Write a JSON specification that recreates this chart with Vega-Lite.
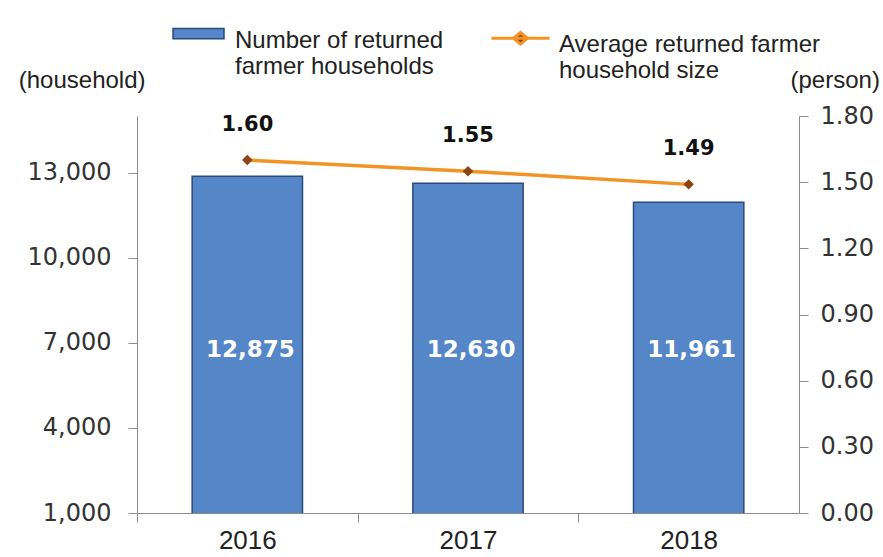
{
  "$schema": "https://vega.github.io/schema/vega-lite/v6.json",
  "width": 662,
  "height": 397,
  "autosize": {"type": "none"},
  "padding": {"left": 137, "top": 116, "right": 84, "bottom": 44},
  "background": "white",
  "config": {
    "view": {"stroke": null},
    "axis": {"grid": false, "domainColor": "#8c8c8c", "tickColor": "#8c8c8c", "labelColor": "#333333", "labelFont": "DejaVu Sans", "labelFontSize": 24, "titleFont": "Liberation Sans", "titleFontSize": 24, "titleFontWeight": "normal", "titleColor": "#222222"},
    "legend": {"labelFont": "Liberation Sans", "labelFontSize": 24, "labelColor": "#222222", "labelLimit": 400, "padding": 0}
  },
  "data": {
    "values": [
      {"year": "2016", "households": 12875, "size": 1.60},
      {"year": "2017", "households": 12630, "size": 1.55},
      {"year": "2018", "households": 11961, "size": 1.49}
    ]
  },
  "encoding": {
    "x": {
      "field": "year", "type": "ordinal",
      "scale": {"paddingInner": 0.5, "paddingOuter": 0.25},
      "axis": {"title": null, "labelAngle": 0, "ticks": true, "tickOffset": -110.33, "labelOffset": 110.33, "tickSize": 9, "labelPadding": 5, "labelFontSize": 26, "labelFont": "Liberation Sans", "labelColor": "#222222"}
    }
  },
  "layer": [
    {
      "layer": [
        {
          "mark": {"type": "bar", "stroke": "#2a4a78", "strokeWidth": 1.5, "clip": true},
          "encoding": {
            "y": {
              "field": "households", "type": "quantitative",
              "scale": {"domain": [1000, 15000], "zero": false, "nice": false},
              "axis": {"values": [1000, 4000, 7000, 10000, 13000], "format": ",d", "tickSize": 9, "labelPadding": 17, "title": "(household)", "titleAngle": 0, "titleAlign": "right", "titleBaseline": "middle", "titleX": 8, "titleY": -36}
            },
            "fill": {
              "datum": "Number of returned farmer households",
              "scale": {"range": ["#5586c8"]},
              "legend": {
                "title": null, "orient": "none", "legendX": 35, "legendY": -114,
                "symbolType": "M-1,0H1V0.4H-1Z", "symbolSize": 2601,
                "symbolStrokeColor": "#2a4a78", "symbolStrokeWidth": 1.5,
                "labelBaseline": "top", "labelOffset": 10,
                "labelExpr": "['Number of returned', 'farmer households']"
              }
            }
          }
        },
        {
          "mark": {"type": "text", "color": "white", "font": "DejaVu Sans", "fontWeight": "bold", "fontSize": 23, "baseline": "middle", "dx": 3},
          "encoding": {
            "y": {"datum": 6750},
            "text": {"field": "households", "type": "quantitative", "format": ",d"}
          }
        }
      ]
    },
    {
      "layer": [
        {
          "mark": {"type": "line", "strokeWidth": 3.5},
          "encoding": {
            "y": {
              "field": "size", "type": "quantitative",
              "scale": {"domain": [0, 1.8], "nice": false},
              "axis": {"orient": "right", "values": [0, 0.3, 0.6, 0.9, 1.2, 1.5, 1.8], "format": ".2f", "tickSize": 9, "labelPadding": 12, "title": "(person)", "titleAngle": 0, "titleAlign": "left", "titleBaseline": "middle", "titleX": -9, "titleY": -36}
            },
            "stroke": {
              "datum": "Average returned farmer household size",
              "scale": {"range": ["#f39325"]},
              "legend": {
                "title": null, "orient": "none", "legendX": 353, "legendY": -114,
                "symbolType": "M-1,0.2H1M0,0L0.24,0.2L0,0.4L-0.24,0.2Z", "symbolSize": 3364,
                "symbolStrokeWidth": 3,
                "labelBaseline": "top", "labelOffset": 8,
                "labelExpr": "['Average returned farmer', 'household size']",
                "encode": {"symbols": {"update": {"fill": {"value": "#8b4513"}}}}
              }
            }
          }
        },
        {
          "mark": {"type": "point", "shape": "diamond", "filled": true, "color": "#8b4513", "size": 110, "opacity": 1},
          "encoding": {"y": {"field": "size", "type": "quantitative"}}
        },
        {
          "mark": {"type": "text", "font": "DejaVu Sans", "fontWeight": "bold", "fontSize": 21, "color": "#111111", "baseline": "middle", "dy": -35},
          "encoding": {
            "y": {"field": "size", "type": "quantitative"},
            "text": {"field": "size", "type": "quantitative", "format": ".2f"}
          }
        }
      ]
    }
  ],
  "resolve": {"scale": {"y": "independent"}}
}
